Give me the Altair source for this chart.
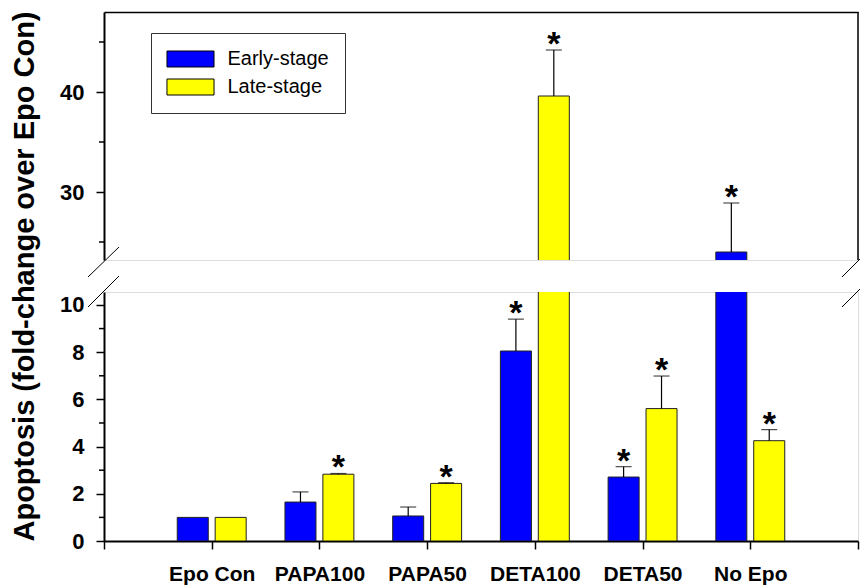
import json
import altair as alt
import pandas as pd

FONT = "Liberation Sans"

# Treatment groups and the two cell populations
categories = ["Epo Con", "PAPA100", "PAPA50", "DETA100", "DETA50", "No Epo"]
stages = ["Early-stage", "Late-stage"]

# Fold-change means and upper error (SEM) per group
early_mean = [1.0, 1.65, 1.06, 8.05, 2.71, 24.0]
early_err = [0.0, 0.43, 0.38, 1.35, 0.44, 4.9]
late_mean = [1.0, 2.83, 2.44, 39.6, 5.61, 4.25]
late_err = [0.0, 0.03, 0.03, 4.6, 1.38, 0.47]

# Significance markers (*)
early_sig = [False, False, False, True, True, True]
late_sig = [False, True, True, True, True, True]

# Ticks for the two segments of the broken y axis
lower_major = [0, 2, 4, 6, 8, 10]
lower_minor = [1, 3, 5, 7, 9]
upper_major = [30, 40]
upper_minor = [25, 35, 45]
LOW = [0, 10.55]
HIGH = [23.2, 48]

rows = []
for i, cat in enumerate(categories):
    for stage, m, e, s in (
        (stages[0], early_mean[i], early_err[i], early_sig[i]),
        (stages[1], late_mean[i], late_err[i], late_sig[i]),
    ):
        rows.append({"cat": cat, "pos": i + 1, "stage": stage, "mean": m, "err": e, "sig": s})
df = pd.DataFrame(rows)

W, H_HIGH, H_LOW, GAP = 754, 248, 249, 32

x_values = list(range(len(categories) + 2))
x_labels = [""] + categories + [""]
x_scale = alt.Scale(domain=[0, len(categories) + 1], nice=False, zero=False)
color_scale = alt.Scale(domain=stages, range=["#0000FF", "#FFFF00"])

base = alt.Chart(df).transform_calculate(
    xc="datum.pos + (datum.stage == 'Early-stage' ? -0.176 : 0.176)"
).transform_calculate(
    x0="datum.xc - 0.144", x1="datum.xc + 0.144", top="datum.mean + datum.err"
)

deco = alt.Chart(pd.DataFrame({"d": [0]}))


def seg(x, y, x2, y2, width=1.0):
    return deco.mark_rule(color="black", strokeWidth=width).encode(
        x=alt.value(x), y=alt.value(y), x2=alt.value(x2), y2=alt.value(y2)
    )


def minor_ticks(values):
    return alt.Chart(pd.DataFrame({"v": values})).mark_rule(
        color="black", strokeWidth=1.5
    ).encode(y="v:Q", x=alt.value(-5), x2=alt.value(0))


def y_axis(values, title=None):
    opts = dict(
        values=values,
        tickSize=8,
        tickWidth=1.5,
        tickColor="black",
        domainWidth=2,
        domainColor="black",
        labelPadding=12,
        labelFont=FONT,
        labelFontSize=22,
        labelFontWeight="bold",
        labelColor="black",
        labelOverlap=False,
        grid=False,
    )
    if title:
        opts.update(
            title=title,
            titleFont=FONT,
            titleFontSize=29,
            titleFontWeight="bold",
            titleColor="black",
            titleAngle=270,
            titleAlign="center",
            titleBaseline="middle",
            titleX=-80,
            titleY=-16,
        )
    else:
        opts.update(title=None)
    return alt.Axis(**opts)


def panel(domain, yax, xax, legend, keep, extras, height):
    yscale = alt.Scale(domain=domain, nice=False, zero=False)
    bars = base.mark_bar(clip=True, stroke="#222222", strokeWidth=1).encode(
        x=alt.X("x0:Q", scale=x_scale, axis=xax),
        x2="x1:Q",
        y=alt.Y("mean:Q", scale=yscale, axis=yax),
        y2=alt.datum(0),
        color=alt.Color("stage:N", scale=color_scale, legend=legend),
    )
    shown = base.transform_filter(keep)
    err = shown.transform_filter("datum.err > 0").mark_rule(
        color="black", strokeWidth=1.2
    ).encode(x="xc:Q", y="mean:Q", y2="top:Q")
    cap = shown.transform_filter("datum.err > 0").mark_tick(
        orient="horizontal", size=16, thickness=1.2, color="black"
    ).encode(x="xc:Q", y="top:Q")
    stars = shown.transform_filter("datum.sig").mark_text(
        text="*", font=FONT, fontSize=34, fontWeight="bold", color="black",
        baseline="alphabetic", dy=5,
    ).encode(x="xc:Q", y="top:Q")
    return alt.layer(bars, err, cap, stars, *extras).properties(width=W, height=height)


# Wide rectangular swatch: unit height 16 px, path stretched horizontally to 47 px
legend = alt.Legend(
    orient="none",
    legendX=47,
    legendY=21,
    title=None,
    symbolType="M-2.94,-1L2.94,-1L2.94,1L-2.94,1Z",
    symbolSize=256,
    symbolOffset=13.5,
    symbolStrokeColor="black",
    symbolStrokeWidth=1,
    symbolOpacity=1,
    labelFont=FONT,
    labelFontSize=20,
    labelColor="black",
    labelOffset=27,
    rowPadding=8,
    padding=16,
    strokeColor="#333333",
    fillColor="white",
)

upper = panel(
    HIGH,
    y_axis(upper_major),
    alt.Axis(orient="top", labels=False, ticks=False, domain=True, domainWidth=1.5,
             domainColor="black", title=None, grid=False),
    legend,
    f"datum.mean >= {HIGH[0]}",
    [
        minor_ticks(upper_minor),
        seg(W, 0, W, H_HIGH, 1.5),          # right frame
        seg(-16, H_HIGH + 17, 15, H_HIGH - 13),   # break mark, left
        seg(W - 16, H_HIGH + 17, W + 2, H_HIGH - 1),  # break mark, right
    ],
    H_HIGH,
)

lower = panel(
    LOW,
    y_axis(lower_major, "Apoptosis (fold-change over Epo Con)"),
    alt.Axis(values=x_values, labelExpr=json.dumps(x_labels) + "[datum.value]",
             tickSize=8, tickWidth=1.5, tickColor="black", domainWidth=2, domainColor="black",
             labelPadding=14, labelFont=FONT, labelFontSize=21, labelFontWeight="bold",
             labelColor="black", labelOverlap=False, labelFlush=False, title=None, grid=False),
    None,
    f"datum.top <= {LOW[1]}",
    [
        minor_ticks(lower_minor),
        seg(-16, 15, 15, -16),              # break mark, left
        seg(W - 16, 15, W + 2, -3),         # break mark, right
    ],
    H_LOW,
)

chart = (
    alt.vconcat(upper, lower, spacing=GAP, bounds="flush")
    .resolve_scale(y="independent", color="independent")
    .properties(padding={"left": 9, "top": 10, "right": 0, "bottom": 0})
    .configure_view(stroke="transparent")
    .configure(font=FONT)
)

chart.save("out.html", embed_options={"renderer": "svg", "actions": False})
